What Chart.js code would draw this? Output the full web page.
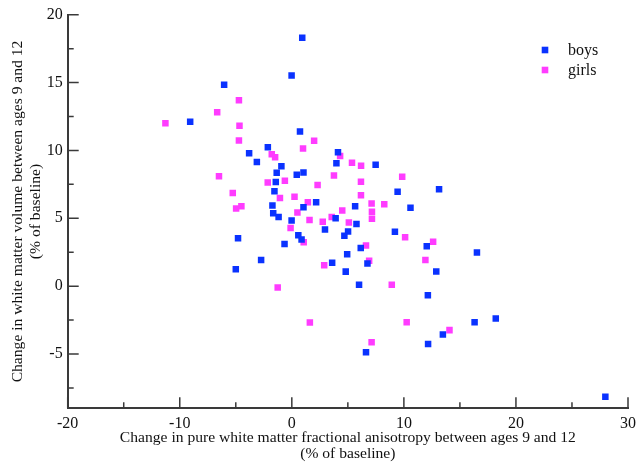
<!DOCTYPE html>
<html>
<head>
<meta charset="utf-8">
<script src="https://cdn.jsdelivr.net/npm/chart.js@4.4.0/dist/chart.umd.min.js"></script>
<style>
  html, body { margin: 0; padding: 0; background: #fff; }
</style>
</head>
<body>
<canvas id="chart" width="642" height="463"></canvas>
<script>
// values (% of baseline)
const boysX = [0.93, -0.02, -6.04, -9.07, 0.73, -2.14, -3.81, 4.12, -3.12, -0.93,
    3.98, 7.48, -1.35, 0.44, 1.04, -1.43, -1.55, 9.44, 13.14, -1.73,
    2.17, 1.04, 5.65, 10.59, -1.66, -1.18, 3.91, -0.02, 5.77, 2.96,
    5.02, 4.69, 9.20, 0.58, 0.87, -4.80, -0.65, 12.04, 6.15, 16.52,
    4.94, 3.60, 6.75, -2.74, 12.89, 4.81, -5.00, 6.00, 12.14, 18.20,
    16.31, 13.48, 12.16, 6.62, 27.98];
const boysY = [18.30, 15.52, 14.84, 12.11, 11.39, 10.23, 9.79, 9.87, 9.15, 8.84,
    9.05, 8.95, 8.36, 8.21, 8.37, 7.67, 6.99, 6.96, 7.14, 5.94,
    6.19, 5.81, 5.88, 5.78, 5.37, 5.10, 5.00, 4.84, 4.58, 4.18,
    4.03, 3.71, 4.01, 3.75, 3.44, 3.53, 3.11, 2.94, 2.81, 2.48,
    2.35, 1.72, 1.66, 1.93, 1.08, 1.07, 1.24, 0.11, -0.67, -2.38,
    -2.66, -3.57, -4.27, -4.87, -8.14];

const girlsX = [-4.72, -6.66, -11.28, -4.67, -4.72, 1.99, 1.00, -1.79, -1.49, 4.31,
    5.37, 6.18, -6.50, 3.76, 9.85, -2.15, -0.62, 2.30, 6.17, -5.27,
    -1.06, 0.24, 6.17, 1.43, 7.12, 8.25, -4.97, -4.50, 0.50, 4.50,
    7.15, 3.56, 7.15, 1.58, 2.76, 5.09, -0.11, 10.11, 12.61, 1.06,
    6.62, 2.89, 6.90, 11.92, 8.92, -1.26, 1.61, 10.25, 14.07, 7.12];
const girlsY = [13.70, 12.81, 12.00, 11.82, 10.73, 10.71, 10.15, 9.71, 9.49, 9.59,
    9.09, 8.87, 8.10, 8.15, 8.06, 7.64, 7.77, 7.45, 7.70, 6.86,
    6.49, 6.59, 6.70, 6.19, 6.09, 6.03, 5.72, 5.88, 5.43, 5.57,
    5.49, 5.10, 4.96, 4.87, 4.75, 4.69, 4.29, 3.61, 3.28, 3.24,
    3.00, 1.54, 1.88, 1.93, 0.10, -0.10, -2.67, -2.66, -3.24, -4.13];

const xTicks = [-20, -10, 0, 10, 20, 30];
const xMinorTicks = [-15, -5, 5, 15, 25];
const yTicks = [-5, 0, 5, 10, 15, 20];
const yMinorTicks = [-7.5, -2.5, 2.5, 7.5, 12.5, 17.5];

const axisColor = "#3a3a3a";
const serif = "'Liberation Serif', 'Times New Roman', serif";

function toPoints(xs, ys) {
    return xs.map((x, i) => ({ x: x, y: ys[i] }));
}

// tick marks pointing into the plot, like the original
const innerTicks = {
    id: "innerTicks",
    afterDraw(chart) {
        const ctx = chart.ctx;
        const area = chart.chartArea;
        const sx = chart.scales.x;
        const sy = chart.scales.y;
        ctx.save();
        ctx.strokeStyle = axisColor;
        ctx.lineWidth = 1.5;
        ctx.beginPath();
        xTicks.forEach(v => {
            const p = sx.getPixelForValue(v);
            ctx.moveTo(p, area.bottom);
            ctx.lineTo(p, area.bottom - 11);
        });
        xMinorTicks.forEach(v => {
            const p = sx.getPixelForValue(v);
            ctx.moveTo(p, area.bottom);
            ctx.lineTo(p, area.bottom - 6);
        });
        yTicks.forEach(v => {
            const p = sy.getPixelForValue(v);
            ctx.moveTo(area.left, p);
            ctx.lineTo(area.left + 11, p);
        });
        yMinorTicks.forEach(v => {
            const p = sy.getPixelForValue(v);
            ctx.moveTo(area.left, p);
            ctx.lineTo(area.left + 6, p);
        });
        ctx.stroke();
        ctx.restore();
    }
};

// small legend in the top right corner
const cornerLegend = {
    id: "cornerLegend",
    afterDraw(chart) {
        const ctx = chart.ctx;
        ctx.save();
        ctx.font = "16px " + serif;
        ctx.textBaseline = "middle";
        chart.data.datasets.forEach((ds, i) => {
            const y = 50 + i * 20;
            ctx.fillStyle = ds.backgroundColor;
            ctx.fillRect(545 - 3.3, y - 3.3, 6.6, 6.6);
            ctx.fillStyle = "#111";
            ctx.fillText(ds.label, 568, y + 1);
        });
        ctx.restore();
    }
};

new Chart(document.getElementById("chart"), {
    type: "scatter",
    data: {
        datasets: [
            {
                label: "boys",
                data: toPoints(boysX, boysY),
                backgroundColor: "#0a32ff",
                borderWidth: 0,
                pointStyle: "rect",
                pointRadius: 4.6
            },
            {
                label: "girls",
                data: toPoints(girlsX, girlsY),
                backgroundColor: "#ff3cff",
                borderWidth: 0,
                pointStyle: "rect",
                pointRadius: 4.6
            }
        ]
    },
    options: {
        responsive: false,
        animation: false,
        layout: {
            padding: { top: 14.7, right: 9.3, left: 0, bottom: 0 }
        },
        plugins: {
            legend: { display: false },
            tooltip: { enabled: false }
        },
        scales: {
            x: {
                type: "linear",
                min: -20,
                max: 30,
                afterBuildTicks: s => { s.ticks = xTicks.map(v => ({ value: v })); },
                afterFit: s => { s.height = 54.7; },
                grid: { display: false, drawTicks: false },
                border: { display: true, color: axisColor, width: 2 },
                ticks: {
                    color: "#111",
                    padding: 6,
                    maxRotation: 0,
                    font: { family: serif, size: 16 }
                },
                title: {
                    display: true,
                    text: ["Change in pure white matter fractional anisotropy between ages 9 and 12",
                           "(% of baseline)"],
                    color: "#111",
                    font: { family: serif, size: 15.6, lineHeight: 1.03 },
                    padding: { top: 0, bottom: 1 }
                }
            },
            y: {
                type: "linear",
                min: -9,
                max: 20,
                afterBuildTicks: s => { s.ticks = yTicks.map(v => ({ value: v })); },
                afterFit: s => { s.width = 67.7; },
                grid: { display: false, drawTicks: false },
                border: { display: true, color: axisColor, width: 2 },
                ticks: {
                    color: "#111",
                    padding: 5,
                    font: { family: serif, size: 16 }
                },
                title: {
                    display: true,
                    text: ["Change in white matter volume between ages 9 and 12",
                           "(% of baseline)"],
                    color: "#111",
                    font: { family: serif, size: 15.6, lineHeight: 1.15 },
                    padding: { top: 9, bottom: 0 }
                }
            }
        }
    },
    plugins: [innerTicks, cornerLegend]
});
</script>
</body>
</html>
